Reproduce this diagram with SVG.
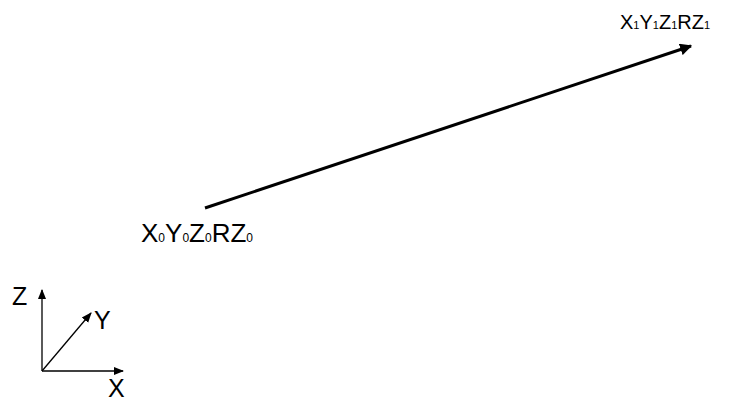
<svg xmlns="http://www.w3.org/2000/svg" width="732" height="403" viewBox="0 0 732 403">
<style>
text{font-family:"Liberation Sans",Arial,sans-serif;fill:#000}
.lbl1{font-size:20px}
.sub1{font-size:11px}
.lbl0{font-size:26px}
.sub0{font-size:12px}
.ax{font-size:25px}
.ln{stroke:#000;fill:none}
</style>
<defs>
<marker id="ah" viewBox="0 0 10 10" refX="9" refY="5" markerWidth="4" markerHeight="4" markerUnits="strokeWidth" orient="auto"><path d="M0,0L10,5L0,10z" fill="#000"/></marker>
<marker id="ah2" viewBox="0 0 10 10" refX="9" refY="5" markerWidth="8" markerHeight="8" markerUnits="strokeWidth" orient="auto"><path d="M0,1L10,5L0,9z" fill="#000"/></marker>
</defs>
<g id="connectors">
<line class="ln" x1="205" y1="208" x2="691" y2="46" stroke-width="3" marker-end="url(#ah)"/>
<line class="ln" x1="42" y1="371" x2="42" y2="290" stroke-width="1.3" marker-end="url(#ah2)"/>
<line class="ln" x1="42" y1="371" x2="123" y2="371" stroke-width="1.3" marker-end="url(#ah2)"/>
<line class="ln" x1="42" y1="371" x2="91" y2="313" stroke-width="1.3" marker-end="url(#ah2)"/>
</g>
<g id="end"><text class="lbl1" x="620" y="29">X<tspan class="sub1">1</tspan>Y<tspan class="sub1">1</tspan>Z<tspan class="sub1">1</tspan>RZ<tspan class="sub1">1</tspan></text></g>
<g id="start"><text class="lbl0" x="141" y="242">X<tspan class="sub0">0</tspan>Y<tspan class="sub0">0</tspan>Z<tspan class="sub0">0</tspan>RZ<tspan class="sub0">0</tspan></text></g>
<g id="axes">
<text class="ax" x="12" y="305">Z</text>
<text class="ax" x="94" y="329">Y</text>
<text class="ax" x="108" y="397">X</text>
</g>
</svg>
